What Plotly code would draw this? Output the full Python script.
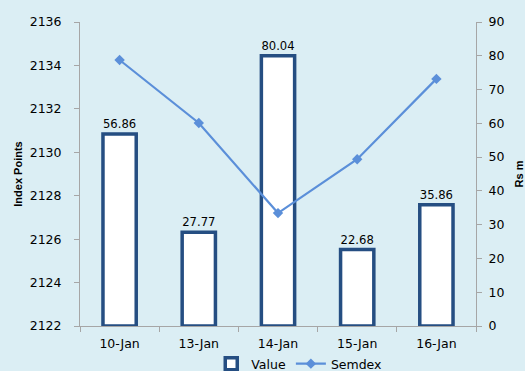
import plotly.graph_objects as go

dates = ["10-Jan", "13-Jan", "14-Jan", "15-Jan", "16-Jan"]
value_rs_m = [56.86, 27.77, 80.04, 22.68, 35.86]
semdex = [2134.25, 2131.35, 2127.2, 2129.68, 2133.38]
value_labels = ["56.86", "27.77", "80.04", "22.68", "35.86"]

bg = "#DBEEF4"
axis_col = "#A6A6A6"
font = dict(family="DejaVu Sans", size=12.5, color="#000000")

fig = go.Figure()
fig.add_trace(go.Bar(
    x=dates, y=value_rs_m, name="Value", yaxis="y",
    marker=dict(color="#FFFFFF", line=dict(color="#254E82", width=3.5)),
    width=0.42,
    text=value_labels, textposition="outside", textfont=font,
    cliponaxis=False,
))
fig.add_trace(go.Scatter(
    x=dates, y=semdex, name="Semdex", yaxis="y2", mode="lines+markers",
    line=dict(color="#5B8FD9", width=2.2),
    marker=dict(symbol="diamond", size=8, color="#5B8FD9"),
))

fig.update_layout(
    width=525, height=371,
    margin=dict(l=80, r=49, t=22, b=45, autoexpand=False),
    paper_bgcolor=bg, plot_bgcolor=bg,
    font=font,
    showlegend=True,
    legend=dict(orientation="h", x=0.57, xanchor="center", xref="container",
                y=(371 - 364) / 371, yanchor="middle", yref="container",
                font=font, bgcolor="rgba(0,0,0,0)", itemwidth=30),
    xaxis=dict(type="category", range=[-0.5, 4.5], showline=True, linecolor=axis_col,
               linewidth=1, ticks="outside", tickson="boundaries", ticklen=5,
               tickcolor=axis_col, showgrid=False, tickfont=font, automargin=False,
               ticklabelstandoff=6),
    yaxis=dict(side="right", range=[0, 90], dtick=10, showline=True, linecolor=axis_col,
               ticks="outside", ticklen=5, tickcolor=axis_col, showgrid=False,
               zeroline=False, tickfont=font, ticklabelstandoff=4, automargin=False,
               title=dict(text="<b>Rs m</b>", font=dict(family="Liberation Sans", size=11, color="#000"),
                          standoff=18)),
    yaxis2=dict(side="left", overlaying="y", range=[2122, 2136], dtick=2, showline=True,
                linecolor=axis_col, ticks="outside", ticklen=5, tickcolor=axis_col,
                showgrid=False, zeroline=False, tickfont=font, ticklabelstandoff=10,
                automargin=False,
                title=dict(text="<b>Index Points</b>", font=dict(family="Liberation Sans", size=11, color="#000"),
                           standoff=4)),
)

fig.write_html("out.html")
